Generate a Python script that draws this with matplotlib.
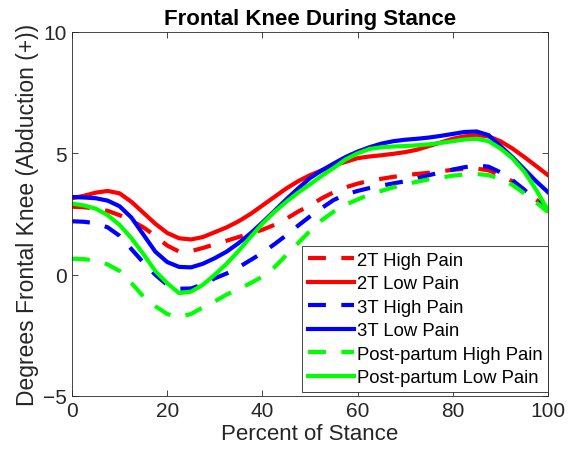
import matplotlib
matplotlib.use("Agg")
import matplotlib.pyplot as plt

plt.rcParams['font.family'] = ['Liberation Sans', 'DejaVu Sans']

# percent of stance, every 2.5 %
pct = [i * 2.5 for i in range(41)]

t2_high = [2.80, 2.78, 2.72, 2.63, 2.45, 2.22, 1.95, 1.60, 1.20, 0.95,
           0.97, 1.10, 1.25, 1.40, 1.55, 1.70, 1.85, 2.05, 2.30, 2.60,
           2.85, 3.15, 3.40, 3.60, 3.75, 3.87, 3.95, 4.03, 4.10, 4.15,
           4.20, 4.26, 4.32, 4.36, 4.37, 4.30, 4.10, 3.85, 3.50, 3.10, 2.72]
t2_low = [3.15, 3.25, 3.38, 3.45, 3.35, 3.00, 2.55, 2.10, 1.72, 1.50,
          1.45, 1.55, 1.75, 1.95, 2.20, 2.50, 2.85, 3.20, 3.55, 3.85,
          4.10, 4.30, 4.50, 4.65, 4.80, 4.87, 4.92, 4.98, 5.05, 5.15,
          5.30, 5.45, 5.60, 5.70, 5.75, 5.70, 5.50, 5.20, 4.85, 4.48, 4.10]
t3_high = [2.20, 2.18, 2.12, 1.95, 1.60, 1.05, 0.50, 0.00, -0.42, -0.58,
           -0.57, -0.40, -0.15, 0.05, 0.30, 0.60, 0.90, 1.25, 1.62, 2.02,
           2.40, 2.75, 3.08, 3.30, 3.45, 3.57, 3.67, 3.76, 3.85, 3.97,
           4.10, 4.22, 4.33, 4.43, 4.50, 4.45, 4.22, 3.90, 3.50, 3.08, 2.65]
t3_low = [3.20, 3.18, 3.15, 3.05, 2.82, 2.35, 1.65, 0.95, 0.52, 0.32,
          0.30, 0.45, 0.68, 0.95, 1.30, 1.70, 2.15, 2.62, 3.10, 3.55,
          3.98, 4.30, 4.58, 4.85, 5.07, 5.25, 5.40, 5.50, 5.56, 5.60,
          5.65, 5.72, 5.80, 5.88, 5.90, 5.75, 5.30, 4.85, 4.35, 3.85, 3.40]
pp_high = [0.66, 0.64, 0.58, 0.42, 0.15, -0.35, -0.90, -1.30, -1.62, -1.75,
           -1.62, -1.35, -1.10, -0.82, -0.60, -0.35, -0.08, 0.30, 0.80, 1.30,
           1.80, 2.25, 2.60, 2.88, 3.10, 3.30, 3.45, 3.60, 3.72, 3.83,
           3.93, 4.00, 4.08, 4.13, 4.15, 4.10, 3.95, 3.70, 3.35, 2.98, 2.58]
pp_low = [2.93, 2.85, 2.72, 2.45, 2.05, 1.50, 0.85, 0.15, -0.35, -0.76,
          -0.70, -0.42, 0.00, 0.45, 0.98, 1.55, 2.10, 2.58, 3.00, 3.38,
          3.72, 4.08, 4.40, 4.75, 5.00, 5.18, 5.25, 5.28, 5.30, 5.33,
          5.37, 5.43, 5.50, 5.57, 5.60, 5.50, 5.20, 4.80, 4.25, 3.50, 2.65]

labels = ['2T High Pain', '2T Low Pain', '3T High Pain', '3T Low Pain',
          'Post-partum High Pain', 'Post-partum Low Pain']

fig = plt.figure(figsize=(5.74, 4.64), dpi=100)
ax = fig.add_axes([0.1254, 0.1444, 0.8293, 0.7845])

dash = (4.3, 3.7)
lw = 3
ax.plot(pct, t2_high, color=(1, 0, 0), lw=lw, dashes=dash, label=labels[0])
ax.plot(pct, t2_low, color=(1, 0, 0), lw=lw, label=labels[1])
ax.plot(pct, t3_high, color=(0, 0, 1), lw=lw, dashes=dash, label=labels[2])
ax.plot(pct, t3_low, color=(0, 0, 1), lw=lw, label=labels[3])
ax.plot(pct, pp_high, color=(0, 1, 0), lw=lw, dashes=dash, label=labels[4])
ax.plot(pct, pp_low, color=(0, 1, 0), lw=lw, label=labels[5])

ax.set_xlim(0, 100)
ax.set_ylim(-5, 10)
ax.set_xticks([0, 20, 40, 60, 80, 100])
ax.set_yticks([-5, 0, 5, 10])
ax.tick_params(direction='in', top=True, right=True, length=4, width=0.6,
               colors='#262626', labelsize=15)
for s in ax.spines.values():
    s.set_color('#262626')
    s.set_linewidth(0.6)

ax.set_xlabel('Percent of Stance', fontsize=16, color='#262626', labelpad=2)
ax.set_ylabel('Degrees Frontal Knee (Abduction (+))', fontsize=16.5, color='#262626', labelpad=3)
ax.set_title('Frontal Knee During Stance', fontsize=16, fontweight='bold', pad=6)

leg = ax.legend(loc='lower right', bbox_to_anchor=(1.0, 0.012), fontsize=13.3,
                handlelength=2.5, handletextpad=0.15, borderpad=0.3,
                labelspacing=0.35, borderaxespad=0, fancybox=False, framealpha=1)
leg.get_frame().set_edgecolor('#262626')
leg.get_frame().set_linewidth(0.6)

fig.savefig('out.png', dpi=100)
